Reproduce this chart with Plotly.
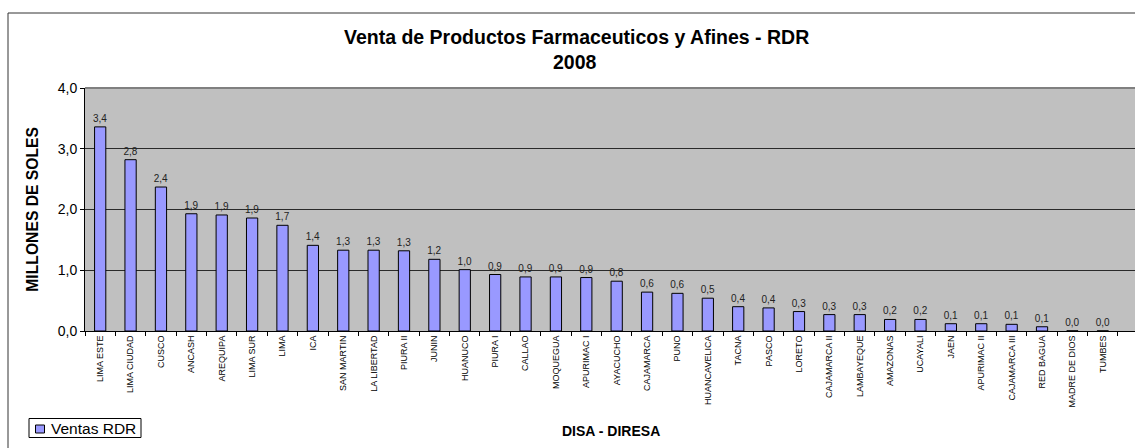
import plotly.graph_objects as go

categories = ["LIMA ESTE", "LIMA CIUDAD", "CUSCO", "ANCASH", "AREQUIPA", "LIMA SUR", "LIMA",
              "ICA", "SAN MARTIN", "LA LIBERTAD", "PIURA II", "JUNIN", "HUANUCO", "PIURA I",
              "CALLAO", "MOQUEGUA", "APURIMAC I", "AYACUCHO", "CAJAMARCA", "PUNO",
              "HUANCAVELICA", "TACNA", "PASCO", "LORETO", "CAJAMARCA II", "LAMBAYEQUE",
              "AMAZONAS", "UCAYALI", "JAEN", "APURIMAC II", "CAJAMARCA III", "RED BAGUA",
              "MADRE DE DIOS", "TUMBES"]
ventas = [3.36, 2.82, 2.37, 1.93, 1.91, 1.86, 1.74, 1.41, 1.33, 1.33, 1.32, 1.18, 1.01, 0.93,
          0.89, 0.89, 0.88, 0.82, 0.64, 0.62, 0.54, 0.40, 0.38, 0.32, 0.27, 0.27, 0.19, 0.19,
          0.12, 0.12, 0.11, 0.07, 0.003, 0.002]
y_ticks = [0, 1, 2, 3, 4]
series_name = "Ventas RDR"

FONT = "Liberation Sans, Arial, sans-serif"
BAR_COLOR = "#9999FF"

fig = go.Figure()
fig.add_trace(go.Bar(
    x=categories, y=ventas, name=series_name,
    width=0.37,
    marker=dict(color=BAR_COLOR, line=dict(color="#000000", width=1)),
    texttemplate="%{y:.1f}", textposition="outside", cliponaxis=False,
    constraintext="none",
    textfont=dict(size=10, color="#222222", family=FONT),
    hoverinfo="x+y", showlegend=False,
))

W, H = 1135, 448
L, R, T, B = 85, 0, 88, 117
pw, ph = W - L - R, H - T - B

def px(x):
    return (x - L) / pw

def py(y):
    return (H - B - y) / ph

fig.update_layout(
    width=W, height=H,
    margin=dict(l=L, r=R, t=T, b=B, pad=0, autoexpand=False),
    paper_bgcolor="white", plot_bgcolor="#C0C0C0",
    separators=",.",
    font=dict(family=FONT, color="#000000"),
    showlegend=False,
    xaxis=dict(type="category", range=[-0.5, 34.06], tickson="boundaries",
               ticks="outside", ticklen=4, tickcolor="#000000",
               showline=True, linecolor="#000000", linewidth=1,
               tickangle=-90, tickfont=dict(size=9, family=FONT),
               showgrid=False, zeroline=False),
    yaxis=dict(range=[0, 4], tickvals=y_ticks, tickformat=".1f",
               ticks="outside", ticklen=4, tickcolor="#000000",
               showline=True, linecolor="#000000", linewidth=1,
               tickfont=dict(size=14, family=FONT),
               showgrid=True, gridcolor="#2a2a2a", gridwidth=1, zeroline=False),
)

# plot-area top border and outer chart border
fig.add_shape(type="line", xref="paper", yref="paper", x0=0, x1=1, y0=1, y1=1,
              line=dict(color="#808080", width=2))
fig.add_shape(type="rect", xref="paper", yref="paper",
              x0=px(8), x1=px(1160), y0=py(470), y1=py(13),
              line=dict(color="#333333", width=1), layer="above")

# legend box
fig.add_shape(type="rect", xref="paper", yref="paper",
              x0=px(29), x1=px(141), y0=py(437.5), y1=py(418.5),
              line=dict(color="#000000", width=1), fillcolor="white", layer="above")
fig.add_shape(type="rect", xref="paper", yref="paper",
              x0=px(35.5), x1=px(44.5), y0=py(433), y1=py(425),
              line=dict(color="#000000", width=1), fillcolor=BAR_COLOR, layer="above")
fig.add_annotation(text=series_name, xref="paper", yref="paper",
                   x=px(48.5), y=py(428.5), xanchor="left", yanchor="middle",
                   showarrow=False, font=dict(size=15.5, family=FONT, color="#000000"))

fig.add_annotation(text="<b>Venta de Productos Farmaceuticos y Afines - RDR</b>",
                   xref="paper", yref="paper", x=px(576.5), y=py(37),
                   xanchor="center", yanchor="middle", showarrow=False,
                   font=dict(size=19.5, family=FONT, color="#000000"))
fig.add_annotation(text="<b>2008</b>",
                   xref="paper", yref="paper", x=px(575), y=py(61.5),
                   xanchor="center", yanchor="middle", showarrow=False,
                   font=dict(size=19.5, family=FONT, color="#000000"))
fig.add_annotation(text="<b>MILLONES DE SOLES</b>",
                   xref="paper", yref="paper", x=px(31.7), y=py(209),
                   xanchor="center", yanchor="middle", textangle=-90, showarrow=False,
                   font=dict(size=15.7, family=FONT, color="#000000"))
fig.add_annotation(text="<b>DISA - DIRESA</b>",
                   xref="paper", yref="paper", x=px(611), y=py(431),
                   xanchor="center", yanchor="middle", showarrow=False,
                   font=dict(size=14, family=FONT, color="#000000"))

fig.write_html("out.html", config={"displayModeBar": False},
               post_script="document.body.style.margin='0';document.body.style.overflow='hidden';")
